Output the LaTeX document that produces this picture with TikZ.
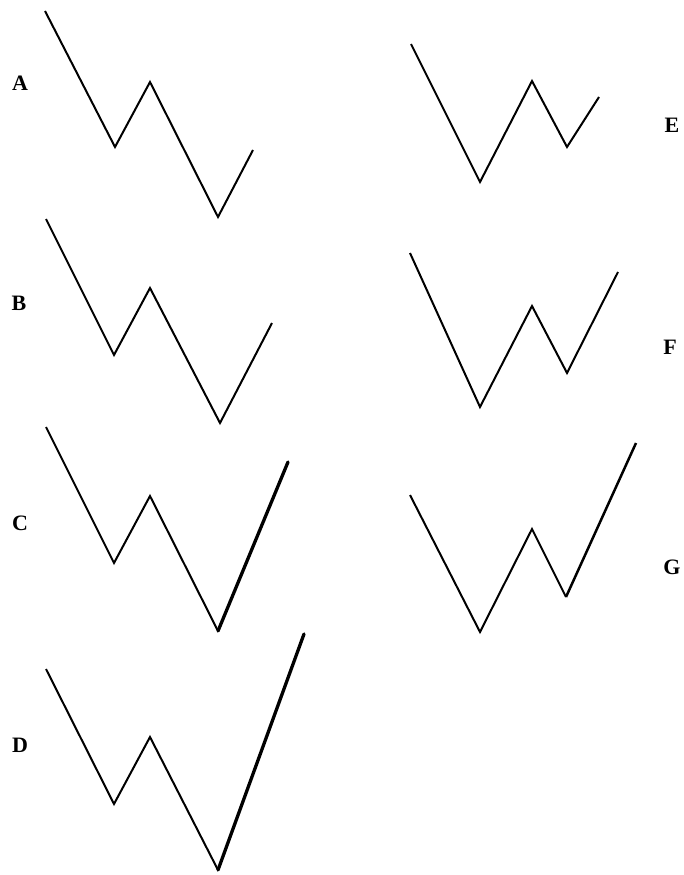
\documentclass[tikz,border=0pt]{standalone}
\usepackage{fontspec}
\setmainfont{Liberation Serif}
\begin{document}
\begin{tikzpicture}[x=1pt,y=-1pt,
  wave/.style={line width=2pt,line join=miter,black},
  thickseg/.style={line width=3.3pt,line cap=round,black},
  lab/.style={font=\bfseries\fontsize{22}{24}\selectfont,inner sep=0pt}]
\useasboundingbox (0,0) rectangle (684,875);
% A
\draw[wave] (45,11) -- (115,147) -- (150,82) -- (218,217) -- (253,150);
\node[lab] (la) at (20,83) {A};
% B
\draw[wave] (46,219) -- (114,355) -- (150,288) -- (220,423) -- (272,323);
\node[lab] (lb) at (19,303) {B};
% C
\draw[wave] (46,427) -- (114,563) -- (150,496) -- (218,631);
\draw[thickseg] (218,631) -- (288,462);
\node[lab] (lc) at (20,523) {C};
% D
\draw[wave] (46,669) -- (114,804) -- (150,737) -- (218,870);
\draw[thickseg] (218,870) -- (304,634);
\node[lab] (ld) at (20,745) {D};
% E
\draw[wave] (411,44) -- (480,182) -- (532,81) -- (567,147) -- (599,97);
\node[lab] (le) at (672,125) {E};
% F
\draw[wave] (410,253) -- (480,407) -- (532,306) -- (567,373) -- (618,272);
\node[lab] (lf) at (670,347) {F};
% G
\draw[wave] (410,495) -- (480,632) -- (532,529) -- (566,597);
\draw[line width=2.5pt,black] (566,597) -- (636,443);
\node[lab] (lg) at (672,567) {G};
\end{tikzpicture}
\end{document}
